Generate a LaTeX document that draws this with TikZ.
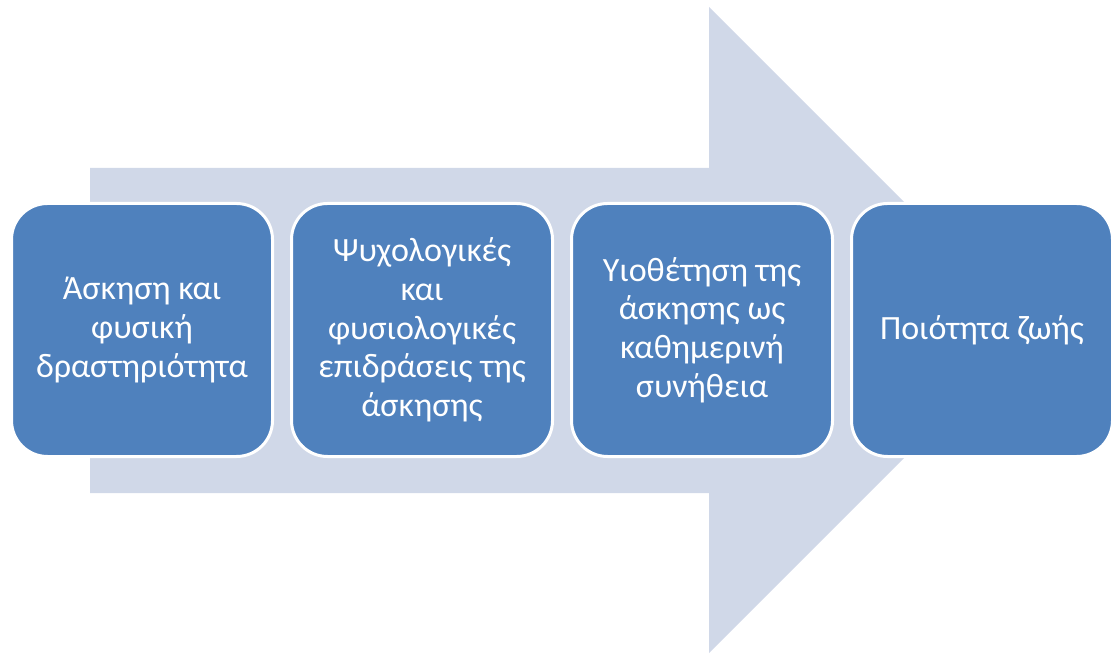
\documentclass[tikz,border=0pt]{standalone}
\usepackage{fontspec}
\setmainfont{Carlito}
\usepackage{xcolor}
\usepackage{tikz}
\usetikzlibrary{positioning}
\definecolor{boxblue}{HTML}{4F81BD}
\definecolor{arrowgray}{HTML}{D0D8E8}

\begin{document}
\begin{tikzpicture}[x=0.75pt,y=-0.75pt,line join=round,
  stage/.style={draw=white,line width=2.25pt,fill=boxblue,rounded corners=27pt,
    minimum width=195.75pt,minimum height=189.75pt,inner sep=2pt,
    text=white,align=center,font=\fontsize{25.5}{29}\selectfont},
  node distance=12pt]
\useasboundingbox (0,0) rectangle (1112,655);
% big arrow behind the boxes
\fill[arrowgray] (90,168) -- (709,168) -- (709,7) -- (1032,330) -- (709,653) -- (709,493) -- (90,493) -- cycle;
% the four stages
\node[stage] (askisi) at (142,330) {Άσκηση και\\φυσική\\δραστηριότητα};
\node[stage,right=of askisi] (epidraseis) {Ψυχολογικές\\και\\φυσιολογικές\\επιδράσεις της\\άσκησης};
\node[stage,right=of epidraseis] (synitheia) {Υιοθέτηση της\\άσκησης ως\\καθημερινή\\συνήθεια};
\node[stage,right=of synitheia] (zoi) {Ποιότητα ζωής};
\end{tikzpicture}
\end{document}
